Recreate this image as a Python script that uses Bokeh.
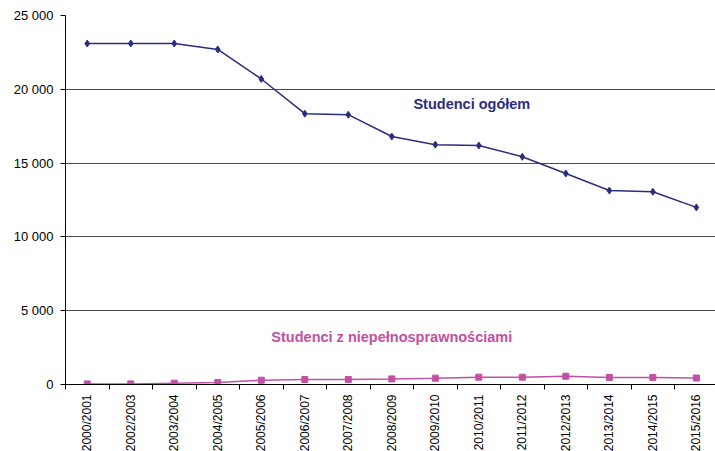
from bokeh.plotting import figure
from bokeh.models import FixedTicker, Range1d, Label
from bokeh.embed import file_html
from bokeh.resources import INLINE
import math

years = ["2000/2001", "2002/2003", "2003/2004", "2004/2005", "2005/2006", "2006/2007",
         "2007/2008", "2008/2009", "2009/2010", "2010/2011", "2011/2012", "2012/2013",
         "2013/2014", "2014/2015", "2015/2016"]
studenci_ogolem = [23100, 23100, 23100, 22700, 20700, 18350, 18280, 16800, 16250, 16190,
                   15430, 14300, 13140, 13060, 12000]
studenci_niepelnosprawni = [40, 40, 90, 135, 290, 340, 340, 380, 430, 495, 495, 560, 480, 480, 440]
y_ticks = [0, 5000, 10000, 15000, 20000, 25000]
y_tick_labels = ["0", "5 000", "10 000", "15 000", "20 000", "25 000"]

FONT = "Liberation Sans"
NAVY = "#2B2D7E"
MAGENTA = "#C250A2"

xs = list(range(len(years)))

p = figure(output_backend="svg", toolbar_location=None,
           frame_width=650, frame_height=369, width=715, height=451,
           x_range=Range1d(-0.5, len(years) - 0.56), y_range=Range1d(0, 25000),
           min_border_left=65, min_border_top=15, min_border_right=0, min_border_bottom=0)
p.outline_line_color = None
p.background_fill_color = "white"
p.border_fill_color = "white"

p.line(xs, studenci_ogolem, line_color=NAVY, line_width=1.5)
p.scatter(xs, studenci_ogolem, marker="diamond", size=7, fill_color=NAVY, line_color=NAVY)
p.line(xs, studenci_niepelnosprawni, line_color=MAGENTA, line_width=1.5)
p.scatter(xs, studenci_niepelnosprawni, marker="square", size=6, fill_color=MAGENTA, line_color=MAGENTA)

# x axis
p.xaxis.ticker = FixedTicker(ticks=xs, minor_ticks=[i - 0.5 for i in range(len(years) + 1)])
p.xaxis.major_label_overrides = {i: y for i, y in enumerate(years)}
p.xaxis.major_label_orientation = math.pi / 2
p.xaxis.major_tick_line_color = None
p.xaxis.minor_tick_line_color = "black"
p.xaxis.minor_tick_out = 5
p.xaxis.minor_tick_in = 0
p.xaxis.axis_line_color = "black"
p.xaxis.major_label_text_font = FONT
p.xaxis.major_label_text_font_size = "12px"
p.xaxis.major_label_text_color = "black"
p.xaxis.major_label_standoff = 4

# y axis
p.yaxis.ticker = FixedTicker(ticks=y_ticks)
p.yaxis.major_label_overrides = {t: l for t, l in zip(y_ticks, y_tick_labels)}
p.yaxis.minor_tick_line_color = None
p.yaxis.major_tick_out = 5
p.yaxis.major_tick_in = 0
p.yaxis.axis_line_color = "black"
p.yaxis.major_tick_line_color = "black"
p.yaxis.major_label_text_font = FONT
p.yaxis.major_label_text_font_size = "13px"
p.yaxis.major_label_text_color = "black"
p.yaxis.major_label_standoff = 7

p.xgrid.grid_line_color = None
p.ygrid.grid_line_color = "#4a4a4a"
p.ygrid.grid_line_width = 1

p.add_layout(Label(x=8.84, y=18975, text="Studenci ogółem", text_font=FONT,
                   text_font_size="14.5px", text_font_style="bold", text_color=NAVY,
                   text_align="center", text_baseline="middle"))
p.add_layout(Label(x=7.0, y=3222, text="Studenci z niepełnosprawnościami", text_font=FONT,
                   text_font_size="14.5px", text_font_style="bold", text_color=MAGENTA,
                   text_align="center", text_baseline="middle"))

open("out.html", "w").write(file_html(p, INLINE))
